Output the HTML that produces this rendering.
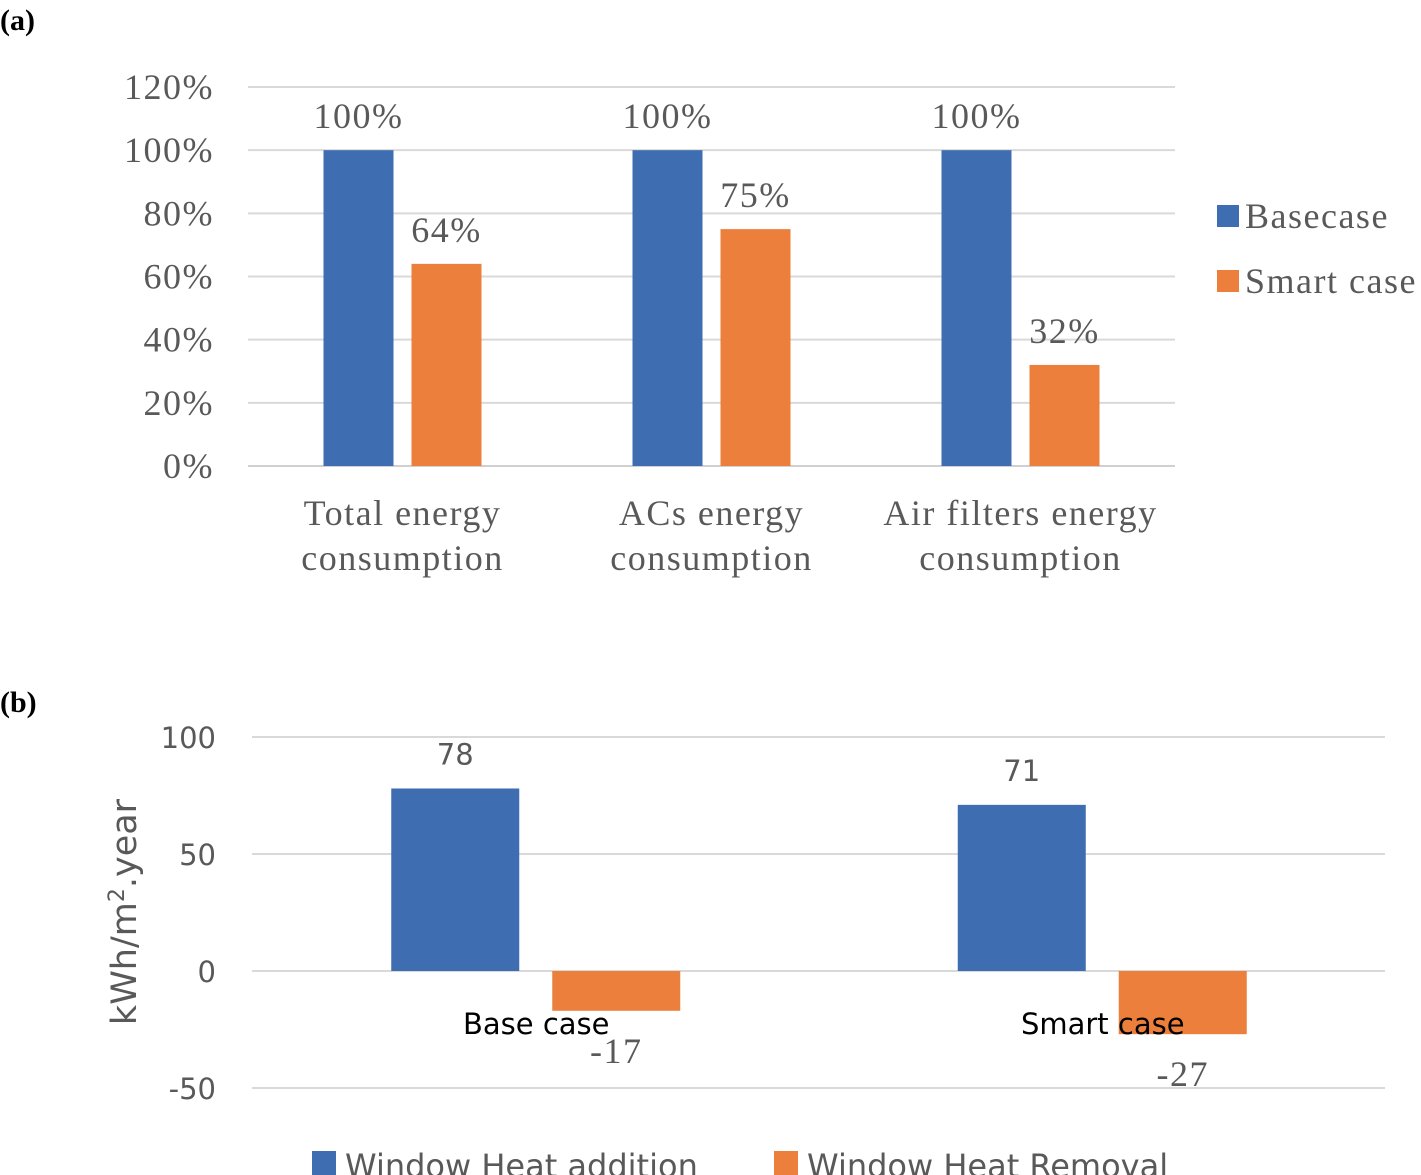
<!DOCTYPE html>
<html><head><meta charset="utf-8"><style>
body{margin:0;background:#fff;width:1421px;height:1175px;overflow:hidden}
svg{display:block}
.s{font-family:"Liberation Serif",serif;fill:#595959;letter-spacing:1.5px}
.n{font-family:"DejaVu Sans",sans-serif;fill:#595959}
</style></head><body>
<svg id="c" width="1421" height="1175">
<text x="0" y="30" font-family="Liberation Serif" font-weight="bold" font-size="30" fill="#000">(a)</text>
<text x="0" y="712" font-family="Liberation Serif" font-weight="bold" font-size="30" fill="#000">(b)</text>
<g id="ga"></g>
<g id="gb"></g>
</svg>
<script>
const aCategories=[["Total energy","consumption"],["ACs energy","consumption"],["Air filters energy","consumption"]];
const aBase=[100,100,100];
const aSmart=[64,75,32];
const aTicks=[0,20,40,60,80,100,120];
const bCategories=["Base case","Smart case"];
const bAddition=[78,71];
const bRemoval=[-17,-27];
const bTicks=[-50,0,50,100];
const NS="http://www.w3.org/2000/svg";
function mk(p,t,a,txt){const e=document.createElementNS(NS,t);for(const k in a)e.setAttribute(k,a[k]);if(txt!=null)e.textContent=txt;p.appendChild(e);return e;}
// chart a
const ga=document.getElementById('ga');
const ya=v=>466-v*(466-87)/120;
const ax0=248,ax1=1175,aw=(ax1-ax0)/3;
aTicks.forEach(t=>{const l=mk(ga,'line',{x1:ax0,x2:ax1,y1:ya(t),y2:ya(t),stroke:t==0?'#d0d0d0':'#d9d9d9','stroke-width':2});

const tx=mk(ga,'text',{x:214,y:ya(t)+12,'text-anchor':'end',class:'s','font-size':36},t+'%');
});
aCategories.forEach((c,i)=>{const cx=ax0+aw*(i+0.5);
const b1=mk(ga,'rect',{x:cx-79,y:ya(aBase[i]),width:70,height:ya(0)-ya(aBase[i]),fill:'#3e6db2'});

const b2=mk(ga,'rect',{x:cx+9,y:ya(aSmart[i]),width:70,height:ya(0)-ya(aSmart[i]),fill:'#eb7f3b'});

const l1=mk(ga,'text',{x:cx-44,y:ya(aBase[i])-22,'text-anchor':'middle',class:'s','font-size':36},aBase[i]+'%');

const l2=mk(ga,'text',{x:cx+44,y:ya(aSmart[i])-22,'text-anchor':'middle',class:'s','font-size':36},aSmart[i]+'%');

c.forEach((s,j)=>{const t=mk(ga,'text',{x:cx,y:525+j*45,'text-anchor':'middle',class:'s','font-size':36},s);
});});
[['Basecase','#3e6db2',216],['Smart case','#eb7f3b',281]].forEach(([n,col,y])=>{
const r=mk(ga,'rect',{x:1217,y:y-11,width:22,height:22,fill:col});
const t=mk(ga,'text',{x:1245,y:y+12,class:'s','font-size':36},n);});
// chart b
const gb=document.getElementById('gb');
const yb=v=>971-v*(971-737)/100;
const bx0=252,bx1=1385,bw=(bx1-bx0)/2;
bTicks.forEach(t=>{const l=mk(gb,'line',{x1:bx0,x2:bx1,y1:yb(t),y2:yb(t),stroke:'#d9d9d9','stroke-width':2});

const tx=mk(gb,'text',{x:216,y:yb(t)+11,'text-anchor':'end',class:'n','font-size':29},t);
});
bCategories.forEach((c,i)=>{const cx=bx0+bw*(i+0.5)+1;
const v1=bAddition[i],v2=bRemoval[i];
const r1=mk(gb,'rect',{x:cx-145,y:yb(Math.max(v1,0)),width:128,height:Math.abs(yb(v1)-yb(0)),fill:'#3e6db2'});

const r2=mk(gb,'rect',{x:cx+16,y:yb(Math.max(v2,0)),width:128,height:Math.abs(yb(v2)-yb(0)),fill:'#eb7f3b'});

const l1=mk(gb,'text',{x:cx-81,y:yb(v1)-24,'text-anchor':'middle',class:'n','font-size':29},v1);

const l2=mk(gb,'text',{x:cx+80,y:yb(v2)+52,'text-anchor':'middle',class:'s','font-size':36},v2);

const t=mk(gb,'text',{x:cx,y:1034,'text-anchor':'middle','font-family':'DejaVu Sans','font-size':29,fill:'#000'},c);
});
const yt=mk(gb,'text',{x:0,y:0,transform:'translate(136,912) rotate(-90)','text-anchor':'middle',class:'n','font-size':35});
yt.innerHTML='kWh/m<tspan dy="-12" font-size="22">2</tspan><tspan dy="12">.year</tspan>';

[['Window Heat addition','#3e6db2',312],['Window Heat Removal','#eb7f3b',774]].forEach(([n,col,x])=>{
const r=mk(gb,'rect',{x:x,y:1151,width:24,height:24,fill:col});
const t=mk(gb,'text',{x:x+33,y:1177,class:'n','font-size':32},n);});
</script>
</body></html>
